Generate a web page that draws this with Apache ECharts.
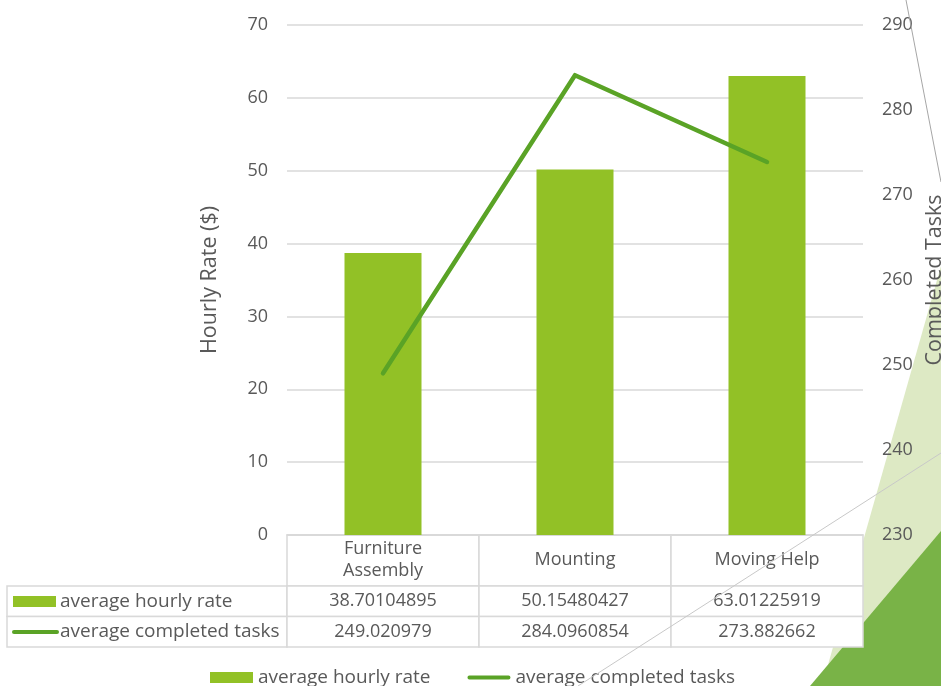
<!DOCTYPE html>
<html>
<head>
<meta charset="utf-8">
<script src="https://cdn.jsdelivr.net/npm/echarts@6/dist/echarts.min.js"></script>
<style>
  html, body { margin: 0; padding: 0; background: #fff; }
  #main { width: 941px; height: 686px; }
</style>
</head>
<body>
<div id="main"></div>
<script>
// data
const categories = ['Furniture\nAssembly', 'Mounting', 'Moving Help'];
const hourlyRate = [38.70104895, 50.15480427, 63.01225919];
const completedTasks = [249.020979, 284.0960854, 273.882662];
const seriesNames = ['average hourly rate', 'average completed tasks'];

const barColor = '#92c126';
const lineColor = '#5aa326';
const textColor = '#595959';
const borderColor = '#d9d9d9';
const font = '"Open Sans", "Noto Sans", sans-serif';

const chart = echarts.init(document.getElementById('main'));

const option = {
    animation: false,
    backgroundColor: '#fff',
    textStyle: { fontFamily: font },
    grid: { left: 287, right: 78, top: 25, bottom: 151, containLabel: false, outerBoundsMode: 'none' },
    legend: {
        left: 210,
        top: 668,
        padding: 0,
        itemWidth: 43,
        itemHeight: 11,
        itemGap: 37,
        symbolKeepAspect: true,
        textStyle: { color: textColor, fontSize: 19, fontFamily: font },
        data: [
            { name: seriesNames[0], icon: 'rect' },
            { name: seriesNames[1], icon: 'path://M2,0H43A2,2 0 0 1 43,4H2A2,2 0 0 1 2,0Z' }
        ]
    },
    xAxis: {
        type: 'category',
        data: categories,
        axisTick: { show: false },
        axisLine: { lineStyle: { color: borderColor, width: 1.5 } },
        axisLabel: {
            margin: 25,
            verticalAlign: 'middle',
            lineHeight: 22,
            fontSize: 18,
            color: textColor,
            fontFamily: font
        }
    },
    yAxis: [{
        type: 'value',
        min: 0,
        max: 70,
        interval: 10,
        name: 'Hourly Rate ($)',
        nameLocation: 'middle',
        nameGap: 66,
        nameTextStyle: { color: textColor, fontSize: 21.5, fontFamily: font },
        axisLine: { show: false },
        axisTick: { show: false },
        axisLabel: { margin: 19, fontSize: 18, color: textColor, fontFamily: font },
        splitLine: { lineStyle: { color: borderColor, width: 1.5 } }
    }, {
        type: 'value',
        min: 230,
        max: 290,
        interval: 10,
        name: 'Completed Tasks',
        nameLocation: 'middle',
        nameGap: 58,
        nameTextStyle: { color: textColor, fontSize: 21.5, fontFamily: font },
        axisLine: { show: false },
        axisTick: { show: false },
        axisLabel: { margin: 19, fontSize: 18, color: textColor, fontFamily: font },
        splitLine: { show: false }
    }],
    series: [{
        name: seriesNames[0],
        type: 'bar',
        data: hourlyRate,
        barWidth: 77,
        itemStyle: { color: barColor }
    }, {
        name: seriesNames[1],
        type: 'line',
        yAxisIndex: 1,
        data: completedTasks,
        symbol: 'none',
        itemStyle: { color: lineColor },
        lineStyle: { color: lineColor, width: 4.5, cap: 'round', join: 'round' }
    }]
};
chart.setOption(option);

// data table under the plot, aligned with the category bands
const c0 = chart.convertToPixel({ xAxisIndex: 0 }, 0);
const c1 = chart.convertToPixel({ xAxisIndex: 0 }, 1);
const band = c1 - c0;
const tableLeft = c0 - band / 2;
const headTop = chart.convertToPixel({ yAxisIndex: 0 }, 0);
const headH = 51, rowH = 30.5;
const labelLeft = 7;

const els = [];
// background theme shapes
els.push({
    type: 'polygon', z: -20, silent: true,
    shape: { points: [[822, 686], [941, 266], [941, 686]] },
    style: { fill: '#dde9c4' }
});
els.push({
    type: 'polygon', z: -19, silent: true,
    shape: { points: [[810, 686], [941, 531], [941, 686]] },
    style: { fill: '#79b347' }
});

const cell = (x, y, w, h) => ({
    type: 'rect', z: -5, silent: true,
    shape: { x: x, y: y, width: w, height: h },
    style: { fill: '#fff', stroke: borderColor, lineWidth: 1.5 }
});
const txt = (s, x, y, align, size) => ({
    type: 'text', z: 5, silent: true,
    style: {
        text: s, x: x, y: y, align: align, verticalAlign: 'middle',
        fill: textColor, fontSize: size, fontFamily: font
    }
});

for (let i = 0; i < categories.length; i++) {
    els.push(cell(tableLeft + band * i, headTop, band, headH));
}
const rows = [hourlyRate, completedTasks];
rows.forEach((vals, r) => {
    const y = headTop + headH + rowH * r;
    els.push(cell(labelLeft, y, tableLeft - labelLeft, rowH));
    vals.forEach((v, i) => {
        els.push(cell(tableLeft + band * i, y, band, rowH));
        els.push(txt(String(v), tableLeft + band * i + band / 2, y + rowH / 2, 'center', 18));
    });
    els.push(txt(seriesNames[r], 60, y + rowH / 2, 'left', 19));
});
// row keys
const r0 = headTop + headH;
els.push({
    type: 'rect', z: 5, silent: true,
    shape: { x: 13, y: r0 + 10, width: 43, height: 11 },
    style: { fill: barColor }
});
els.push({
    type: 'line', z: 5, silent: true,
    shape: { x1: 14, y1: r0 + rowH + 15.5, x2: 57, y2: r0 + rowH + 15.5 },
    style: { stroke: lineColor, lineWidth: 4, lineCap: 'round' }
});

// thin grey theme lines on top
els.push({
    type: 'line', z: 100, silent: true,
    shape: { x1: 578, y1: 686, x2: 941, y2: 453 },
    style: { stroke: '#c8c8c8', lineWidth: 1 }
});
els.push({
    type: 'line', z: 100, silent: true,
    shape: { x1: 906, y1: 0, x2: 941, y2: 182 },
    style: { stroke: '#a6a6a6', lineWidth: 1 }
});

chart.setOption({ graphic: { elements: els } });
</script>
</body>
</html>
